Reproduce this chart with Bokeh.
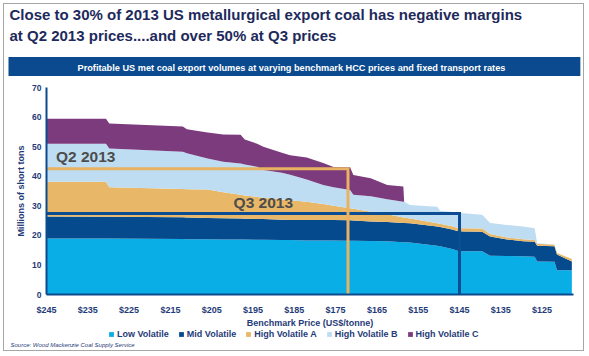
from bokeh.plotting import figure
from bokeh.layouts import column
from bokeh.models import (ColumnDataSource, Range1d, FixedTicker, PrintfTickFormatter,
                          Label, Legend, LegendItem, Title)
from bokeh.embed import file_html
from bokeh.resources import INLINE

# ---------------- data ----------------
price = [245.0, 230.6, 229.8, 212.0, 211.0, 206.0, 202.2, 198.0, 197.0, 194.0,
         192.5, 188.0, 186.0, 182.0, 178.0, 175.5, 171.5, 170.7, 166.5, 162.5,
         158.6, 158.4, 157.0, 150.4, 149.7, 146.5, 145.6, 144.0, 139.5, 137.6,
         133.5, 129.6, 126.8, 126.2, 122.0, 121.4, 117.8]
low_volatile = [18.9, 18.9, 18.9, 18.8, 18.7, 18.7, 18.6, 18.6, 18.6, 18.5,
                18.5, 18.4, 18.4, 18.3, 18.3, 18.3, 18.2, 18.2, 18.1, 18.0,
                17.7, 17.7, 17.6, 16.5, 16.3, 15.3, 14.8, 14.6, 14.6, 13.1,
                13.0, 12.9, 12.8, 11.2, 11.1, 8.2, 8.2]
mid_volatile = [7.5, 7.4, 7.4, 7.3, 7.3, 7.2, 7.2, 7.1, 7.0, 7.0,
                7.0, 6.9, 6.8, 6.9, 6.9, 6.9, 6.9, 6.8, 6.6, 6.5,
                6.5, 6.5, 6.5, 6.5, 6.5, 6.6, 6.7, 6.7, 6.6, 6.5,
                5.6, 5.1, 5.0, 5.3, 5.2, 5.3, 3.0]
high_volatile_a = [11.7, 11.8, 10.0, 9.6, 9.6, 9.6, 8.8, 8.0, 7.9, 7.5,
                   7.2, 6.8, 6.7, 6.2, 5.4, 4.8, 4.1, 4.0, 3.3, 2.6,
                   1.8, 1.8, 1.6, 1.1, 1.1, 1.1, 1.1, 1.1, 1.1, 0.9,
                   0.7, 0.7, 0.6, 0.7, 0.5, 0.5, 0.8]
high_volatile_b = [12.9, 12.9, 13.1, 12.6, 12.2, 10.5, 10.3, 10.6, 10.5, 10.2,
                   9.4, 9.1, 8.6, 7.5, 6.4, 6.3, 6.1, 4.7, 5.2, 5.1,
                   5.4, 5.4, 4.6, 5.6, 4.4, 4.9, 5.1, 5.1, 4.7, 3.7,
                   4.2, 4.3, 4.0, 0.1, 0.1, 0.0, 0.0]
high_volatile_c = [8.4, 8.4, 8.4, 8.5, 8.1, 8.8, 9.2, 9.7, 8.4, 7.8,
                   7.9, 6.7, 6.6, 7.4, 7.5, 6.8, 7.7, 6.7, 6.1, 4.8,
                   5.1, 0.0, 0.0, 0.0, 0.0, 0.0, 0.0, 0.0, 0.0, 0.0,
                   0.0, 0.0, 0.0, 0.0, 0.0, 0.0, 0.0]
series_names = ["Low Volatile", "Mid Volatile", "High Volatile A",
                "High Volatile B", "High Volatile C"]
x_ticks = [245, 235, 225, 215, 205, 195, 185, 175, 165, 155, 145, 135, 125]
y_ticks = [0, 10, 20, 30, 40, 50, 60, 70]
benchmark_labels = ["Q2 2013", "Q3 2013"]
benchmark_price = [172, 145]
benchmark_volume = [42.5, 27.4]

title_text = ("Close to 30% of 2013 US metallurgical export coal has negative margins\n"
              "at Q2 2013 prices....and over 50% at Q3 prices")
banner_text = ("Profitable US met coal export volumes at varying benchmark HCC prices "
               "and fixed transport rates")
source_text = "Source: Wood Mackenzie Coal Supply Service"

# ---------------- styling ----------------
colors = ["#0AAEE6", "#064A8E", "#E8B767", "#BEDDF2", "#7C3B7D"]
NAVY = "#1F3B78"
TITLE_C = "#1E2A5C"
BANNER_C = "#0B4A8E"
BORDER_C = "#A6A6A6"
FONT = "Liberation Sans"
BORDER = "1px solid " + BORDER_C
STACK = ["low", "mid", "hva", "hvb", "hvc"]

src = ColumnDataSource(dict(price=price, low=low_volatile, mid=mid_volatile,
                            hva=high_volatile_a, hvb=high_volatile_b,
                            hvc=high_volatile_c))

# ---------------- main chart ----------------
p = figure(width=581, height=326, output_backend="svg", toolbar_location=None,
           x_range=Range1d(245, 117.4), y_range=Range1d(0, 70),
           min_border_left=42, min_border_right=12, min_border_top=83,
           min_border_bottom=34,
           styles={"margin": "3px 3px 0px 3px", "border-top": BORDER,
                   "border-left": BORDER, "border-right": BORDER})
p.outline_line_color = None
p.xgrid.visible = False
p.ygrid.visible = False
p.background_fill_color = "white"
p.border_fill_color = "white"

p.varea_stack(stackers=STACK, x="price", color=colors, source=src)

line_cols = ["#E8B262", "#0B4C92"]
for i in [1, 0]:
    bp, bv = benchmark_price[i], benchmark_volume[i]
    p.line(x=[price[0], bp, bp], y=[bv, bv, 0], line_color=line_cols[i],
           line_width=3, line_join="miter")

label_pos = [(242.7, 46.8), (199.7, 31.0)]
for txt, (lx, ly) in zip(benchmark_labels, label_pos):
    p.add_layout(Label(x=lx, y=ly, text=txt, text_font=FONT, text_font_size="15.5px",
                       text_font_style="bold", text_color="#4D4D4D",
                       text_baseline="middle", text_align="left"))

p.xaxis.ticker = FixedTicker(ticks=x_ticks)
p.xaxis.formatter = PrintfTickFormatter(format="$%d")
p.yaxis.ticker = FixedTicker(ticks=y_ticks)
for ax in (p.xaxis, p.yaxis):
    ax.axis_line_color = BANNER_C
    ax.axis_line_width = 2
    ax.major_tick_line_color = None
    ax.minor_tick_line_color = None
    ax.major_tick_out = 0
    ax.major_tick_in = 0
    ax.minor_tick_out = 0
    ax.minor_tick_in = 0
    ax.major_label_text_color = NAVY
    ax.major_label_text_font = FONT
    ax.major_label_text_font_style = "bold"
    ax.axis_label_text_color = NAVY
    ax.axis_label_text_font = FONT
    ax.axis_label_text_font_style = "bold"
    ax.axis_label_text_font_size = "9px"
p.xaxis.major_label_text_font_size = "9px"
p.yaxis.major_label_text_font_size = "8.5px"
p.xaxis.major_label_standoff = 10
p.yaxis.major_label_standoff = 5
p.xaxis.axis_label = "Benchmark Price (US$/tonne)"
p.yaxis.axis_label = "Millions of short tons"
p.xaxis.axis_label_standoff = 0
p.yaxis.axis_label_standoff = 3

# above: banner (closest to frame) then the two-line title
p.add_layout(Title(text=banner_text, align="left", offset=-38, vertical_align="middle",
                   text_font=FONT, text_font_size="9.2px", text_font_style="bold",
                   text_color="white", background_fill_color=BANNER_C,
                   padding=dict(left=69, right=75, top=6, bottom=3),
                   standoff=21), "above")
p.add_layout(Title(text=title_text, align="left", offset=-37, vertical_align="middle",
                   text_font=FONT, text_font_size="15px", text_font_style="bold",
                   text_color=TITLE_C, text_line_height=1.25, standoff=1), "above")

# ---------------- footer: legend + source ----------------
footer = figure(width=581, height=22, output_backend="svg", toolbar_location=None,
                x_range=Range1d(0, 1), y_range=Range1d(0, 1),
                x_axis_type=None, y_axis_type=None,
                min_border_left=42, min_border_right=12, min_border_top=0,
                min_border_bottom=11,
                styles={"margin": "0px 3px 3px 3px", "border-bottom": BORDER,
                        "border-left": BORDER, "border-right": BORDER})
footer.outline_line_color = None
footer.background_fill_color = "white"
footer.border_fill_color = "white"
# same stacked series (outside this strip's ranges) serve as legend swatches
swatches = footer.varea_stack(stackers=STACK, x="price", color=colors, source=src)
legend = Legend(items=[LegendItem(label=n, renderers=[r]) for n, r in zip(series_names, swatches)],
                orientation="horizontal", location=(62, 0.5),
                glyph_width=6, glyph_height=6, label_height=10, label_width=10,
                label_standoff=3, spacing=9, padding=0, margin=0,
                label_text_font=FONT, label_text_font_size="9px",
                label_text_font_style="bold", label_text_color=NAVY,
                background_fill_alpha=0, border_line_alpha=0)
footer.add_layout(legend, "center")
footer.add_layout(Title(text=source_text, align="left", offset=-36, vertical_align="top",
                        text_font=FONT, text_font_size="6px", text_font_style="italic",
                        text_color=NAVY, standoff=4), "below")

layout = column(p, footer, spacing=0)
open("out.html", "w").write(file_html(layout, INLINE))
